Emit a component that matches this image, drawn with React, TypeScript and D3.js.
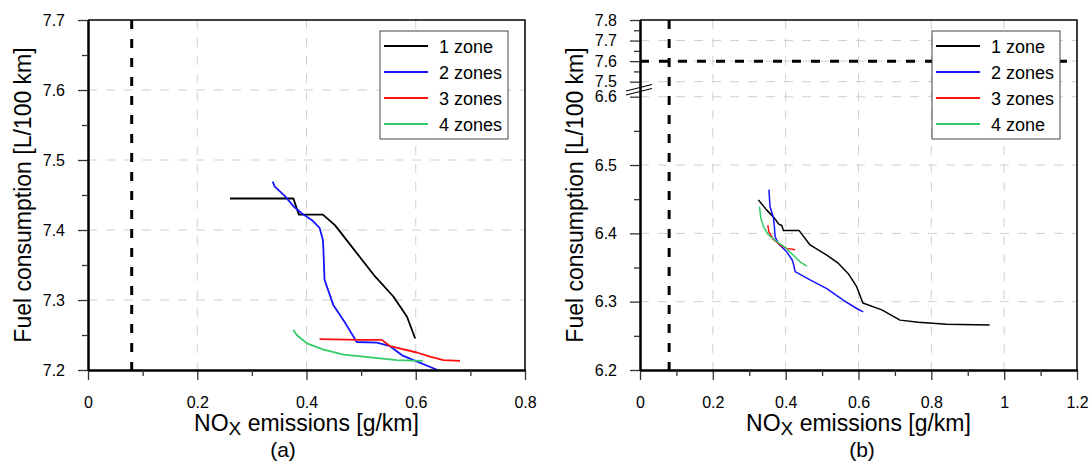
import { useRef, useEffect } from "react";
import * as d3 from "d3";

type Pt = [number, number];

const FONT = "'Liberation Sans', Arial, sans-serif";

// (a) NOx [g/km] vs fuel [L/100 km]
const a1zone: Pt[] = [
  [0.26, 7.445], [0.376, 7.445], [0.386, 7.422], [0.43, 7.422], [0.452, 7.407],
  [0.471, 7.388], [0.523, 7.336], [0.559, 7.305], [0.584, 7.276], [0.599, 7.245],
];
const a2zones: Pt[] = [
  [0.338, 7.469], [0.342, 7.462], [0.361, 7.448], [0.376, 7.434], [0.391, 7.424],
  [0.41, 7.414], [0.424, 7.403], [0.43, 7.386], [0.431, 7.371], [0.433, 7.329],
  [0.449, 7.293], [0.471, 7.267], [0.492, 7.24], [0.529, 7.239], [0.553, 7.234],
  [0.575, 7.221], [0.596, 7.214], [0.64, 7.2],
];
const a3zones: Pt[] = [
  [0.424, 7.244], [0.498, 7.243], [0.538, 7.243], [0.553, 7.234], [0.602, 7.225],
  [0.626, 7.219], [0.651, 7.214], [0.681, 7.213],
];
const a4zones: Pt[] = [
  [0.376, 7.257], [0.382, 7.25], [0.401, 7.238], [0.431, 7.229], [0.468, 7.222],
  [0.504, 7.219], [0.565, 7.214], [0.613, 7.213],
];

// (b)
const b1zone: Pt[] = [
  [0.325, 6.449], [0.348, 6.434], [0.368, 6.423], [0.382, 6.413], [0.389, 6.412],
  [0.394, 6.404], [0.437, 6.404], [0.467, 6.383], [0.513, 6.368], [0.545, 6.356],
  [0.572, 6.341], [0.595, 6.322], [0.612, 6.298], [0.664, 6.288], [0.714, 6.273],
  [0.764, 6.27], [0.842, 6.267], [0.96, 6.266],
];
const b2zones: Pt[] = [
  [0.354, 6.464], [0.357, 6.439], [0.366, 6.424], [0.369, 6.41], [0.371, 6.395],
  [0.38, 6.385], [0.403, 6.373], [0.418, 6.361], [0.421, 6.356], [0.426, 6.344],
  [0.467, 6.332], [0.513, 6.319], [0.559, 6.302], [0.595, 6.29], [0.613, 6.285],
];
const b3zones: Pt[] = [
  [0.351, 6.412], [0.354, 6.402], [0.366, 6.391], [0.385, 6.383], [0.403, 6.378],
  [0.426, 6.376],
];
const b4zones: Pt[] = [
  [0.328, 6.439], [0.332, 6.422], [0.339, 6.41], [0.352, 6.398], [0.376, 6.388],
  [0.398, 6.38], [0.421, 6.368], [0.44, 6.358], [0.458, 6.352],
];

const namesA = ["1 zone", "2 zones", "3 zones", "4 zones"];
const namesB = ["1 zone", "2 zones", "3 zones", "4 zone"];
const colors = ["#000000", "#1414ff", "#ff1010", "#33cc66"];

const xTicksA = [0, 0.2, 0.4, 0.6, 0.8];
const xMinorA = [0.1, 0.3, 0.5, 0.7];
const yTicksA = [7.2, 7.3, 7.4, 7.5, 7.6, 7.7];
const yMinorA = [7.25, 7.35, 7.45, 7.55, 7.65];

const xTicksB = [0, 0.2, 0.4, 0.6, 0.8, 1, 1.2];
const xMinorB = [0.1, 0.3, 0.5, 0.7, 0.9, 1.1];
const yTicksB = [6.2, 6.3, 6.4, 6.5, 6.6, 7.5, 7.6, 7.7, 7.8];
const yMinorB = [6.25, 6.35, 6.45, 6.55, 7.55, 7.65, 7.75];

const limitNox = 0.08;
const limitFuelB = 7.6;

const W = 437;
const H = 350;
const TOP = 20;

type PanelProps = {
  left: number;
  xDomain: number[];
  yDomain: number[];
  yRange: number[];
  xTicks: number[];
  xMinor: number[];
  yTicks: number[];
  yMinor: number[];
  series: Pt[][];
  names: string[];
  caption: string;
  captionX: number;
  lineWidth: number;
  hLimit?: number;
  yBreak?: [number, number];
};

function Panel(p: PanelProps) {
  const gx = useRef<SVGGElement>(null);
  const gxm = useRef<SVGGElement>(null);
  const gy = useRef<SVGGElement>(null);
  const gym = useRef<SVGGElement>(null);

  const x = d3.scaleLinear().domain(p.xDomain).range([0, W]);
  const y = d3.scaleLinear().domain(p.yDomain).range(p.yRange);
  const line = d3.line<Pt>().x((d) => x(d[0])).y((d) => y(d[1]));

  useEffect(() => {
    const fmt = (d: d3.NumberValue) => String(d);
    const style = (g: d3.Selection<SVGGElement, unknown, null, undefined>) => {
      g.attr("font-size", 16).attr("font-family", FONT);
      g.select(".domain").attr("stroke", "#000").attr("stroke-width", 2);
      g.selectAll(".tick line").attr("stroke", "#333").attr("stroke-width", 1.3);
      g.selectAll(".tick text").attr("fill", "#000");
    };
    d3.select(gx.current!)
      .call(d3.axisBottom(x).tickValues(p.xTicks).tickSize(10).tickSizeOuter(0).tickPadding(17).tickFormat(fmt))
      .call(style);
    d3.select(gxm.current!)
      .call(d3.axisBottom(x).tickValues(p.xMinor).tickSize(6).tickSizeOuter(0).tickFormat(() => ""))
      .call(style);
    d3.select(gy.current!)
      .call(d3.axisLeft(y).tickValues(p.yTicks).tickSize(10).tickSizeOuter(0).tickPadding(13).tickFormat(fmt))
      .call(style);
    d3.select(gym.current!)
      .call(d3.axisLeft(y).tickValues(p.yMinor).tickSize(6).tickSizeOuter(0).tickFormat(() => ""))
      .call(style);
  });

  const lgX = W - 145;
  const lgY = 11;
  const midBreak = p.yBreak ? (y(p.yBreak[0]) + y(p.yBreak[1])) / 2 : 0;

  return (
    <g transform={`translate(${p.left},${TOP})`}>
      {/* grid */}
      <g stroke="#cfcfcf" strokeWidth={1} strokeDasharray="9,9">
        {p.xTicks.slice(1, -1).map((t) => (
          <line key={"gx" + t} x1={x(t)} x2={x(t)} y1={0} y2={H} />
        ))}
        {p.yTicks.slice(1, -1).map((t) => (
          <line key={"gy" + t} x1={0} x2={W} y1={y(t)} y2={y(t)} />
        ))}
      </g>
      {/* frame top/right */}
      <path d={`M0,0H${W}V${H}`} fill="none" stroke="#000" strokeWidth={1.5} />
      {/* limit lines */}
      <line x1={x(limitNox)} x2={x(limitNox)} y1={0} y2={H} stroke="#000" strokeWidth={3} strokeDasharray="9,10" />
      {p.hLimit !== undefined && (
        <line x1={0} x2={W} y1={y(p.hLimit)} y2={y(p.hLimit)} stroke="#000" strokeWidth={3} strokeDasharray="9,10" />
      )}
      {/* series */}
      {p.series.map((s, i) => (
        <path key={i} d={line(s) ?? ""} fill="none" stroke={colors[i]} strokeWidth={p.lineWidth} strokeLinejoin="round" />
      ))}
      <g ref={gx} transform={`translate(0,${H})`} />
      <g ref={gxm} transform={`translate(0,${H})`} />
      <g ref={gy} />
      <g ref={gym} />
      {p.yBreak && (
        <g stroke="#000" strokeWidth={1.2}>
          <line x1={-14} y1={midBreak + 1.8} x2={12} y2={midBreak - 4.7} />
          <line x1={-14} y1={midBreak + 5.8} x2={12} y2={midBreak - 0.7} />
        </g>
      )}
      {/* legend */}
      <g transform={`translate(${lgX},${lgY})`}>
        <rect width={128} height={108} fill="#fff" stroke="#444" strokeWidth={1} />
        {p.names.map((n, i) => (
          <g key={n} transform={`translate(0,${15 + i * 26})`}>
            <line x1={4} x2={48} stroke={colors[i]} strokeWidth={1.8} />
            <text x={59} y={6.5} fontSize={18} fontFamily={FONT}>{n}</text>
          </g>
        ))}
      </g>
      {/* axis titles */}
      <text x={W / 2} y={411} textAnchor="middle" fontSize={23} fontFamily={FONT}>
        NO<tspan fontSize={19} dy={4}>X</tspan><tspan dy={-4}> emissions [g/km]</tspan>
      </text>
      <text x={p.captionX} y={436.5} textAnchor="middle" fontSize={21} fontFamily={FONT}>{p.caption}</text>
      <text transform={`translate(-57,${H / 2}) rotate(-90)`} textAnchor="middle" fontSize={23} fontFamily={FONT}>
        Fuel consumption [L/100 km]
      </text>
    </g>
  );
}

export default function App() {
  return (
    <svg width={1091} height={462} style={{ position: "absolute", left: 0, top: 0, background: "#fff" }}>
      <Panel
        left={88}
        xDomain={[0, 0.8]}
        yDomain={[7.2, 7.7]}
        yRange={[H, 0]}
        xTicks={xTicksA}
        xMinor={xMinorA}
        yTicks={yTicksA}
        yMinor={yMinorA}
        series={[a1zone, a2zones, a3zones, a4zones]}
        names={namesA}
        caption="(a)"
        captionX={195}
        lineWidth={1.8}
      />
      <Panel
        left={640}
        xDomain={[0, 1.2]}
        yDomain={[6.2, 6.6, 7.5, 7.8]}
        yRange={[H, 76.7, 61.7, 0]}
        xTicks={xTicksB}
        xMinor={xMinorB}
        yTicks={yTicksB}
        yMinor={yMinorB}
        series={[b1zone, b2zones, b3zones, b4zones]}
        names={namesB}
        caption="(b)"
        captionX={222}
        lineWidth={1.5}
        hLimit={limitFuelB}
        yBreak={[6.6, 7.5]}
      />
    </svg>
  );
}
